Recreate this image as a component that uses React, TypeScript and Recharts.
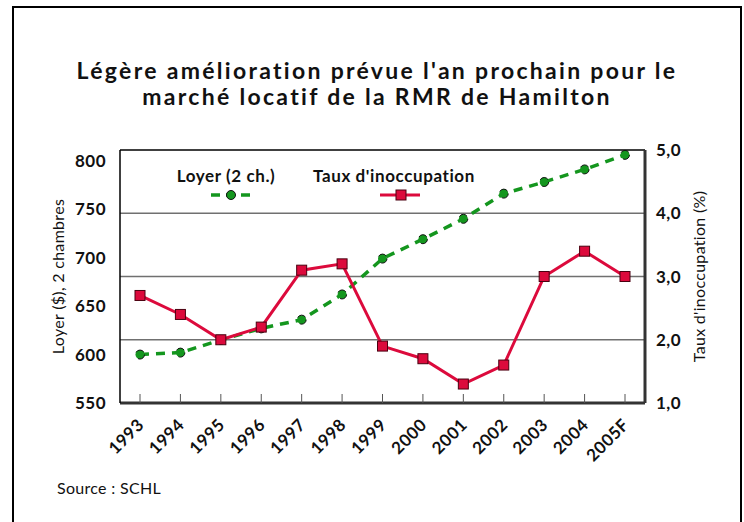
import { LineChart, Line, XAxis, YAxis, CartesianGrid } from 'recharts';

const years = ['1993', '1994', '1995', '1996', '1997', '1998', '1999', '2000', '2001', '2002', '2003', '2004', '2005F'];
const loyer = [600, 602, 615, 627, 636, 662, 699, 719, 740, 766, 778, 791, 806];
const taux = [2.7, 2.4, 2.0, 2.2, 3.1, 3.2, 1.9, 1.7, 1.3, 1.6, 3.0, 3.4, 3.0];

const loyerTicks = [550, 600, 650, 700, 750, 800];
const tauxTicks = [1, 2, 3, 4, 5];
const gridValues = [2, 3, 4];
const topValue = [5];

const GREEN = '#14961e';
const RED = '#dc0a3c';
const FONT = 'Lato, "Open Sans", sans-serif';

const data = years.map((year, i) => ({ year, loyer: loyer[i], taux: taux[i] }));

const fmtTaux = (v: number) => v.toFixed(1).replace('.', ',');

function YearTick({ x, y, payload }: any) {
  const ax = x + 5;
  const ay = y + 23;
  return (
    <g>
      <line x1={x} x2={x} y1={y - 9} y2={y} stroke="#555" strokeWidth={1} />
      <text
        x={ax}
        y={ay}
        textAnchor="end"
        transform={`rotate(-45 ${ax} ${ay})`}
        fontFamily={FONT}
        fontWeight={700}
        fontSize={17}
        letterSpacing={0.5}
        fill="#111"
      >
        {payload.value}
      </text>
    </g>
  );
}

function SquareDot({ cx, cy }: any) {
  if (cx == null || cy == null) return null;
  return <rect x={cx - 5} y={cy - 5} width={10} height={10} fill={RED} stroke="#4a0010" strokeWidth={1} />;
}

function LegendBox() {
  const text = { position: 'absolute' as const, top: 0, textAlign: 'center' as const, whiteSpace: 'nowrap' as const };
  return (
    <div style={{ position: 'absolute', left: 170, top: 165, width: 340, height: 40, fontFamily: FONT, fontWeight: 700, fontSize: 17, letterSpacing: 0.6, color: '#111' }}>
      <div style={{ ...text, left: 0, width: 112 }}>Loyer (2 ch.)</div>
      <svg style={{ position: 'absolute', left: 39, top: 23 }} width={44} height={14}>
        <line x1={2} x2={42} y1={7} y2={7} stroke={GREEN} strokeWidth={3.5} strokeDasharray="9 6" />
        <circle cx={22} cy={7} r={4.5} fill={GREEN} stroke="#111" strokeWidth={1} />
      </svg>
      <div style={{ ...text, left: 140, width: 168 }}>Taux d'inoccupation</div>
      <svg style={{ position: 'absolute', left: 208, top: 23 }} width={44} height={14}>
        <line x1={2} x2={42} y1={7} y2={7} stroke={RED} strokeWidth={3} />
        <rect x={18} y={2} width={10} height={10} fill={RED} stroke="#4a0010" strokeWidth={1} />
      </svg>
    </div>
  );
}

export default function App() {
  return (
    <div style={{ position: 'absolute', left: 0, top: 0, width: 744, height: 522, background: '#fff', overflow: 'hidden' }}>
      <div
        style={{
          position: 'absolute',
          left: 12,
          top: 6,
          width: 726,
          height: 600,
          borderLeft: '2px solid #000',
          borderTop: '2px solid #000',
          borderRight: '2px solid #000',
        }}
      />
      <div
        style={{
          position: 'absolute',
          left: 0,
          top: 57,
          width: 754,
          textAlign: 'center',
          fontFamily: FONT,
          fontWeight: 700,
          fontSize: 23,
          letterSpacing: 2.3,
          lineHeight: '26px',
          color: '#111',
        }}
      >
        Légère amélioration prévue l'an prochain pour le
        <br />
        marché locatif de la RMR de Hamilton
      </div>
      <div style={{ position: 'absolute', left: 0, top: 0 }}>
        <LineChart width={744} height={522} data={data} margin={{ top: 150, right: 0, bottom: 59, left: 0 }}>
          <CartesianGrid yAxisId="right" vertical={false} horizontalValues={gridValues} stroke="#707070" strokeWidth={1.5} />
          <CartesianGrid yAxisId="right" vertical={false} horizontalValues={topValue} stroke="#000" strokeWidth={1.5} />
          <XAxis
            dataKey="year"
            padding={{ left: 20, right: 20 }}
            height={60}
            tickLine={false}
            tickSize={0}
            tickMargin={0}
            interval={0}
            axisLine={{ stroke: '#333', strokeWidth: 3 }}
            tick={<YearTick />}
          />
          <YAxis
            yAxisId="left"
            width={120}
            domain={[550, 811]}
            ticks={loyerTicks}
            tickLine={false}
            tickSize={6}
            tickMargin={8}
            axisLine={{ stroke: '#000', strokeWidth: 1.5 }}
            tick={{ fontFamily: FONT, fontWeight: 700, fontSize: 17, letterSpacing: 0.5, fill: '#111' }}
            label={{ value: 'Loyer ($), 2 chambres', angle: -90, position: 'center', dx: -2, style: { fontFamily: FONT, fontSize: 16, letterSpacing: 0.3, fill: '#111', textAnchor: 'middle' } }}
          />
          <YAxis
            yAxisId="right"
            orientation="right"
            width={99}
            domain={[1, 5]}
            ticks={tauxTicks}
            tickFormatter={fmtTaux}
            tickLine={false}
            tickSize={6}
            tickMargin={5}
            axisLine={{ stroke: '#333', strokeWidth: 3 }}
            tick={{ fontFamily: FONT, fontWeight: 700, fontSize: 17, letterSpacing: 0.5, fill: '#111' }}
            label={{ value: "Taux d'inoccupation (%)", angle: -90, position: 'center', dx: 5, style: { fontFamily: FONT, fontSize: 16, letterSpacing: 0.3, fill: '#111', textAnchor: 'middle' } }}
          />
          <Line
            yAxisId="left"
            dataKey="loyer"
            stroke={GREEN}
            strokeWidth={3.5}
            strokeDasharray="9 7"
            dot={{ r: 4.5, fill: GREEN, stroke: '#111', strokeWidth: 1 }}
            isAnimationActive={false}
          />
          <Line
            yAxisId="right"
            dataKey="taux"
            stroke={RED}
            strokeWidth={3}
            dot={<SquareDot />}
            isAnimationActive={false}
          />
        </LineChart>
      </div>
      <LegendBox />
      <div style={{ position: 'absolute', left: 57, top: 478, fontFamily: FONT, fontSize: 16, letterSpacing: 0.3, color: '#111' }}>Source : SCHL</div>
    </div>
  );
}
